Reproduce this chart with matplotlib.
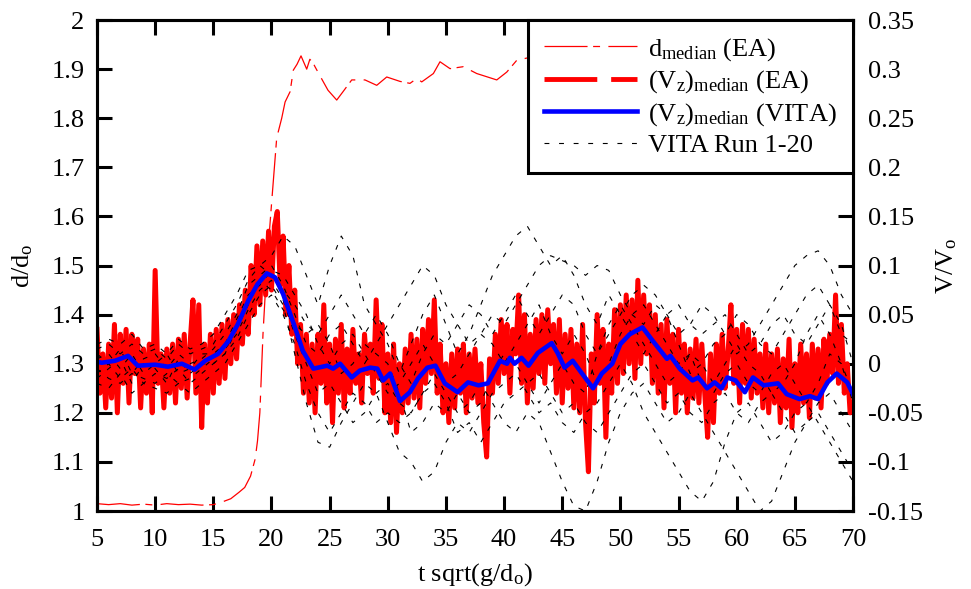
"""Median separation and vertical velocity, EA vs VITA runs."""
import matplotlib

matplotlib.use("Agg")
import matplotlib.pyplot as plt
from matplotlib.lines import Line2D
import numpy as np

# d/d_o median from EA (left axis)
d_time = [5, 6, 7, 8, 9, 10, 11, 12, 13, 14, 15, 15.6, 16.5, 17.2, 17.7, 18.2,
          18.6, 18.8, 19.0, 19.27, 19.6, 20.02, 20.45, 20.88, 21.17, 21.6, 21.88,
          22.2, 22.54, 23.03, 23.3, 23.57, 23.74, 24.32, 24.86, 25.61, 26.15,
          26.9, 28.04, 29.05, 29.91, 31.05, 31.91, 32.49, 32.92, 33.92, 34.49,
          35.35, 36.5, 37.65, 39.37, 40.23, 41.09, 42.23, 44, 46, 48, 50, 52,
          54, 56, 58, 60, 62, 64, 66, 68, 70]
d_median = [1.015, 1.013, 1.015, 1.012, 1.014, 1.012, 1.015, 1.013, 1.014, 1.012,
            1.013, 1.017, 1.025, 1.038, 1.048, 1.071, 1.106, 1.143, 1.2, 1.36,
            1.5, 1.63, 1.76, 1.80, 1.833, 1.854, 1.898, 1.91, 1.927, 1.90, 1.92,
            1.913, 1.905, 1.88, 1.857, 1.837, 1.854, 1.878, 1.878, 1.867, 1.884,
            1.875, 1.871, 1.881, 1.874, 1.891, 1.915, 1.901, 1.905, 1.891, 1.878,
            1.894, 1.918, 1.924, 1.93, 1.92, 1.93, 1.925, 1.93, 1.92, 1.925,
            1.93, 1.92, 1.925, 1.93, 1.92, 1.925, 1.93]

# (V_z)_median from EA, sampled every 0.25 from t=5 to t=70 (right axis)
ea_time = np.arange(5.0, 70.001, 0.25)
ea_vz = [
    0.035, -0.03, 0.01, -0.045, 0.02, -0.035, 0.04, -0.05, 0.03, -0.02,
    0.035, -0.04, 0.03, -0.01, 0.025, -0.045, 0.015, -0.03, 0.02, -0.05,
    0.095, -0.02, 0.01, -0.045, 0.015, -0.03, 0.02, -0.04, 0.025, -0.025,
    0.03, -0.035, 0.02, 0.065, -0.03, 0.06, -0.065, 0.02, -0.04, 0.03,
    -0.03, 0.035, -0.02, 0.04, -0.015, 0.045, 0.0, 0.05, 0.005, 0.06,
    0.02, 0.075, 0.03, 0.10, 0.05, 0.12, 0.06, 0.125, 0.07, 0.135,
    0.075, 0.14, 0.155, 0.08, 0.13, 0.05, 0.10, 0.03, 0.075, 0.0,
    0.04, -0.03, 0.03, -0.04, 0.02, -0.05, 0.03, -0.02, 0.06, -0.04,
    0.02, -0.06, 0.025, -0.03, 0.04, -0.045, 0.015, -0.03, 0.035, -0.02,
    0.01, -0.04, 0.03, -0.01, 0.02, -0.03, 0.065, -0.015, 0.04, -0.05,
    0.01, -0.06, 0.02, -0.07, 0.0, -0.05, 0.015, -0.04, 0.03, -0.035,
    0.025, -0.045, 0.035, -0.02, 0.045, -0.01, 0.065, -0.03, 0.02, -0.05,
    0.0, -0.06, 0.01, -0.045, 0.015, -0.03, 0.02, -0.05, 0.01, -0.035,
    0.015, -0.04, 0.0, -0.06, -0.095, 0.005, -0.03, 0.03, -0.02, 0.045,
    -0.01, 0.04, -0.03, 0.035, 0.01, 0.07, -0.02, 0.05, -0.04, 0.03,
    -0.025, 0.045, -0.01, 0.05, -0.02, 0.055, 0.0, 0.04, -0.03, 0.045,
    -0.04, 0.03, -0.025, 0.035, -0.045, 0.02, -0.05, 0.04, -0.06, -0.11,
    0.01, -0.04, 0.05, -0.02, 0.035, -0.075, 0.02, -0.03, 0.055, -0.02,
    0.06, -0.01, 0.07, 0.0, 0.065, -0.015, 0.085, 0.0, 0.07, 0.01,
    0.06, -0.02, 0.05, -0.03, 0.04, -0.045, 0.045, -0.02, 0.03, -0.05,
    0.035, -0.03, 0.02, -0.05, 0.015, -0.035, 0.025, -0.04, 0.02, -0.03,
    -0.075, 0.01, -0.06, 0.02, -0.03, 0.03, -0.025, 0.01, 0.06, -0.02,
    0.035, -0.04, 0.04, -0.02, 0.035, -0.035, 0.025, -0.03, 0.01, -0.045,
    0.02, -0.05, 0.01, -0.04, 0.015, -0.06, 0.005, -0.045, 0.025, -0.065,
    0.0, -0.05, 0.02, -0.04, 0.01, -0.055, 0.02, -0.035, 0.015, -0.045,
    0.025, -0.02, 0.03, -0.01, 0.07, -0.02, 0.04, -0.03, 0.0, -0.05,
    -0.04,
]

# (V_z)_median from VITA
vita_time = [5.0, 5.4, 6.55, 7.67, 8.5, 10.0, 11.1, 12.3, 13.4, 14.3, 15.4, 16.3,
             17.1, 18.0, 18.8, 19.6, 20.3, 21.0, 21.9, 22.7, 23.6, 24.8, 25.3,
             25.9, 26.9, 27.6, 28.5, 29.1, 29.6, 30.2, 31.05, 31.9, 32.6, 33.4,
             34.1, 34.9, 36.0, 36.9, 37.8, 38.6, 39.65, 40.25, 40.5, 40.9, 41.5,
             42.1, 42.9, 43.5, 44.1, 44.6, 45.2, 45.9, 46.7, 47.65, 48.4, 49.3,
             50.0, 50.8, 51.9, 52.8, 54.0, 54.3, 55.1, 56.2, 56.7, 57.45, 58.1,
             58.7, 59.2, 59.9, 60.7, 61.4, 62.3, 63.55, 64.3, 65.4, 66.3, 67.0,
             67.8, 68.6, 69.5, 70.0]
vita_vz = [0.002, 0.001, 0.003, 0.008, -0.002, -0.001, -0.003, 0.0, -0.006, 0.003,
           0.010, 0.023, 0.040, 0.064, 0.081, 0.092, 0.088, 0.071, 0.041, 0.013,
           -0.005, -0.002, -0.005, 0.0, -0.014, -0.007, -0.004, -0.005, -0.017,
           -0.010, -0.038, -0.029, -0.015, -0.004, -0.002, -0.020, -0.029,
           -0.019, -0.022, -0.020, 0.003, 0.0, 0.006, 0.0, 0.006, -0.002, 0.011,
           0.016, 0.021, 0.011, -0.004, 0.003, -0.010, -0.025, -0.010, 0.0,
           0.020, 0.030, 0.037, 0.023, 0.005, 0.008, -0.005, -0.017, -0.014,
           -0.025, -0.019, -0.025, -0.014, -0.017, -0.029, -0.014, -0.022,
           -0.020, -0.031, -0.036, -0.033, -0.036, -0.019, -0.010, -0.019,
           -0.031]

# individual VITA runs, sampled at t = 5, 6, ..., 70
run_time = np.arange(5, 71)
vita_runs = [
    [0.02, 0.025, 0.02, 0.03, 0.015, 0.02, 0.01, 0.025, 0.015, 0.02,
     0.03, 0.05, 0.07, 0.095, 0.1, 0.11, 0.13, 0.12,
     0.09, 0.06, 0.1, 0.13, 0.11, 0.06, 0.04, 0.02,
     -0.01, 0.02, 0.05, 0.07, 0.04, 0.01, 0.03, 0.06, 0.09, 0.11,
     0.13, 0.14, 0.12, 0.1, 0.11, 0.09, 0.06, 0.04, 0.07, 0.05,
     0.03, 0.01, 0.03, 0.05, 0.02, -0.01, 0.0, 0.02, 0.03, 0.01,
     0.02, 0.04, 0.06, 0.08, 0.1, 0.11, 0.115, 0.1, 0.07, 0.05],
    [-0.02, -0.025, -0.01, -0.03, -0.02, -0.025, -0.03, -0.02, -0.03, -0.02,
     -0.01, 0.0, 0.02, 0.04, 0.06, 0.07, 0.05, 0.02,
     -0.02, -0.05, -0.07, -0.05, -0.03, -0.04, -0.06, -0.05,
     -0.06, -0.05, -0.03, -0.01, -0.03, -0.05, -0.04, -0.02, -0.04, -0.06,
     -0.07, -0.05, -0.06, -0.09, -0.12, -0.145, -0.15, -0.12, -0.08, -0.05,
     -0.03, -0.02, -0.04, -0.06, -0.05, -0.03, -0.05, -0.07, -0.09, -0.11,
     -0.13, -0.15, -0.14, -0.11, -0.08, -0.06, -0.05, -0.07, -0.09, -0.11],
    [0.01, 0.0, 0.015, -0.01, 0.005, 0.01, -0.005, 0.01, 0.0, 0.005,
     0.015, 0.03, 0.05, 0.08, 0.09, 0.1, 0.08, 0.05,
     0.02, 0.01, 0.03, 0.04, 0.02, 0.0, 0.02, 0.04,
     0.06, 0.08, 0.1, 0.09, 0.06, 0.04, 0.02, 0.03, 0.05, 0.04,
     0.06, 0.08, 0.1, 0.11, 0.105, 0.1, 0.09, 0.1, 0.095, 0.07,
     0.05, 0.04, 0.06, 0.05, 0.03, 0.04, 0.06, 0.05, 0.03, 0.05,
     0.04, 0.02, 0.01, 0.03, 0.05, 0.07, 0.08, 0.06, 0.03, 0.02],
    [-0.01, 0.0, -0.015, -0.005, -0.02, -0.01, -0.015, -0.005, -0.02, -0.01,
     0.0, 0.01, 0.025, 0.05, 0.07, 0.08, 0.06, 0.01,
     -0.04, -0.08, -0.085, -0.06, -0.04, -0.02, -0.03, -0.06,
     -0.09, -0.1, -0.12, -0.11, -0.08, -0.06, -0.07, -0.05, -0.03, -0.02,
     -0.01, -0.03, -0.05, -0.04, -0.06, -0.07, -0.05, -0.04, -0.02, 0.0,
     -0.02, -0.05, -0.07, -0.09, -0.11, -0.13, -0.14, -0.12, -0.08, -0.05,
     -0.04, -0.06, -0.08, -0.07, -0.05, -0.04, -0.06, -0.08, -0.1, -0.12],
    [0.015, 0.02, 0.01, 0.02, 0.01, 0.015, 0.005, 0.02, 0.01, 0.015,
     0.02, 0.04, 0.06, 0.085, 0.1, 0.09, 0.075, 0.06,
     0.04, 0.03, 0.05, 0.07, 0.05, 0.03, 0.05, 0.03,
     0.0, -0.02, 0.01, 0.03, 0.02, 0.04, 0.06, 0.05, 0.03, 0.05,
     0.07, 0.05, 0.03, 0.05, 0.07, 0.06, 0.03, 0.01, 0.03, 0.05,
     0.07, 0.08, 0.07, 0.05, 0.06, 0.04, 0.03, 0.04, 0.05, 0.03,
     0.01, 0.02, 0.04, 0.05, 0.03, 0.02, 0.04, 0.06, 0.04, 0.0],
    [-0.005, -0.015, -0.02, -0.01, -0.015, -0.02, -0.01, -0.02, -0.015, -0.005,
     0.005, 0.015, 0.03, 0.055, 0.075, 0.085, 0.065, 0.03,
     0.0, -0.03, -0.02, -0.04, -0.06, -0.05, -0.03, -0.02,
     -0.04, -0.05, -0.03, -0.02, -0.04, -0.07, -0.06, -0.08, -0.06, -0.04,
     -0.03, -0.02, -0.01, -0.03, -0.05, -0.04, -0.06, -0.07, -0.05, -0.03,
     -0.01, 0.0, -0.02, -0.04, -0.03, -0.05, -0.06, -0.04, -0.03, -0.05,
     -0.06, -0.04, -0.03, -0.05, -0.07, -0.06, -0.04, -0.03, -0.05, -0.07],
    [0.005, 0.01, -0.005, 0.01, -0.01, 0.0, 0.01, -0.01, -0.005, 0.01,
     0.01, 0.02, 0.045, 0.07, 0.08, 0.095, 0.09, 0.07,
     0.05, 0.02, 0.0, 0.02, 0.03, 0.01, -0.01, -0.03,
     -0.02, 0.0, 0.02, 0.0, -0.02, -0.01, 0.01, 0.03, 0.02, 0.0,
     0.02, 0.04, 0.06, 0.03, 0.01, 0.03, 0.01, -0.02, 0.0, 0.03,
     0.05, 0.06, 0.04, 0.02, 0.0, 0.01, -0.02, -0.03, -0.01, 0.0,
     -0.02, -0.03, -0.01, 0.0, -0.02, -0.04, -0.02, 0.01, 0.0, -0.03],
    [-0.015, -0.005, 0.005, -0.02, 0.0, -0.005, -0.02, 0.005, -0.01, 0.0,
     0.0, 0.01, 0.035, 0.06, 0.085, 0.075, 0.055, 0.04,
     0.03, 0.04, 0.02, -0.01, 0.0, 0.02, 0.01, 0.0,
     -0.03, -0.07, -0.06, -0.04, -0.05, -0.03, -0.05, -0.04, -0.01, 0.01,
     0.0, -0.02, -0.04, -0.02, 0.0, -0.02, -0.03, 0.01, 0.04, 0.06,
     0.04, 0.02, 0.0, -0.02, -0.01, 0.01, 0.0, -0.02, 0.0, 0.02,
     0.0, -0.01, -0.03, -0.02, 0.0, 0.03, 0.05, 0.03, 0.0, -0.04],
]

FS = 19

plt.rcParams.update({
    "font.family": "Liberation Serif",
    "mathtext.fontset": "custom",
    "mathtext.rm": "Liberation Serif",
    "mathtext.it": "Liberation Serif:italic",
    "font.size": FS,
    "lines.scale_dashes": False,
    "axes.linewidth": 2.2,
})

fig = plt.figure(figsize=(9.71, 5.89), dpi=100)
ax1 = fig.add_axes([0.0999, 0.1324, 0.7786, 0.8336])
ax2 = ax1.twinx()

d_line, = ax1.plot(d_time, d_median, color="red", linewidth=0.9,
                   dashes=(31, 4, 5, 6), label=r"d$_{\mathrm{median}}$ (EA)")

ax2.plot(ea_time, ea_vz, color="red", linewidth=3.6)
for run in vita_runs:
    ax2.plot(run_time, run, color="black", linewidth=0.8, dashes=(3.5, 6))
vita_line, = ax2.plot(vita_time, vita_vz, color="blue", linewidth=3.3,
                      label=r"(V$_{\mathrm{z}}$)$_{\mathrm{median}}$ (VITA)")

# legend entries for the dense red trace and the run family
ea_handle = Line2D([], [], color="red", linewidth=3.5, dashes=(38, 10),
                   label=r"(V$_{\mathrm{z}}$)$_{\mathrm{median}}$ (EA)")
run_handle = Line2D([], [], color="black", linewidth=0.8, dashes=(3.5, 7),
                    label="VITA Run 1-20")

ax1.set_xlim(5, 70)
ax1.set_ylim(1, 2)
ax2.set_ylim(-0.15, 0.35)
ax1.set_xticks(np.arange(5, 71, 5))
ax1.set_yticks(np.arange(1.0, 2.01, 0.1))
ax1.set_yticklabels(["1", "1.1", "1.2", "1.3", "1.4", "1.5", "1.6", "1.7",
                     "1.8", "1.9", "2"])
ax2.set_yticks(np.arange(-0.15, 0.351, 0.05))
ax2.set_yticklabels(["-0.15", "-0.1", "-0.05", "0", "0.05", "0.1", "0.15",
                     "0.2", "0.25", "0.3", "0.35"])

ax1.tick_params(axis="x", direction="in", length=11, width=2.2, top=True,
                pad=13, labelsize=FS)
ax1.tick_params(axis="y", direction="in", length=11, width=2.2, right=False,
                pad=9, labelsize=FS)
ax2.tick_params(axis="y", direction="in", length=11, width=2.2, pad=11,
                labelsize=FS)

ax1.set_xlabel(r"t sqrt(g/d$_{\mathrm{o}}$)", fontsize=FS, labelpad=7)
ax1.set_ylabel(r"d/d$_{\mathrm{o}}$", fontsize=FS, labelpad=12)
ax2.set_ylabel(r"V/V$_{\mathrm{o}}$", fontsize=FS, labelpad=8)

leg = ax2.legend(handles=[d_line, ea_handle, vita_line, run_handle],
                 loc="upper right", borderaxespad=0, fancybox=False,
                 edgecolor="black", framealpha=1, fontsize=FS,
                 handlelength=3.5, handletextpad=0.45, labelspacing=0.22,
                 borderpad=0.6)
leg.get_frame().set_linewidth(2.2)

fig.savefig("out.png", dpi=100)
